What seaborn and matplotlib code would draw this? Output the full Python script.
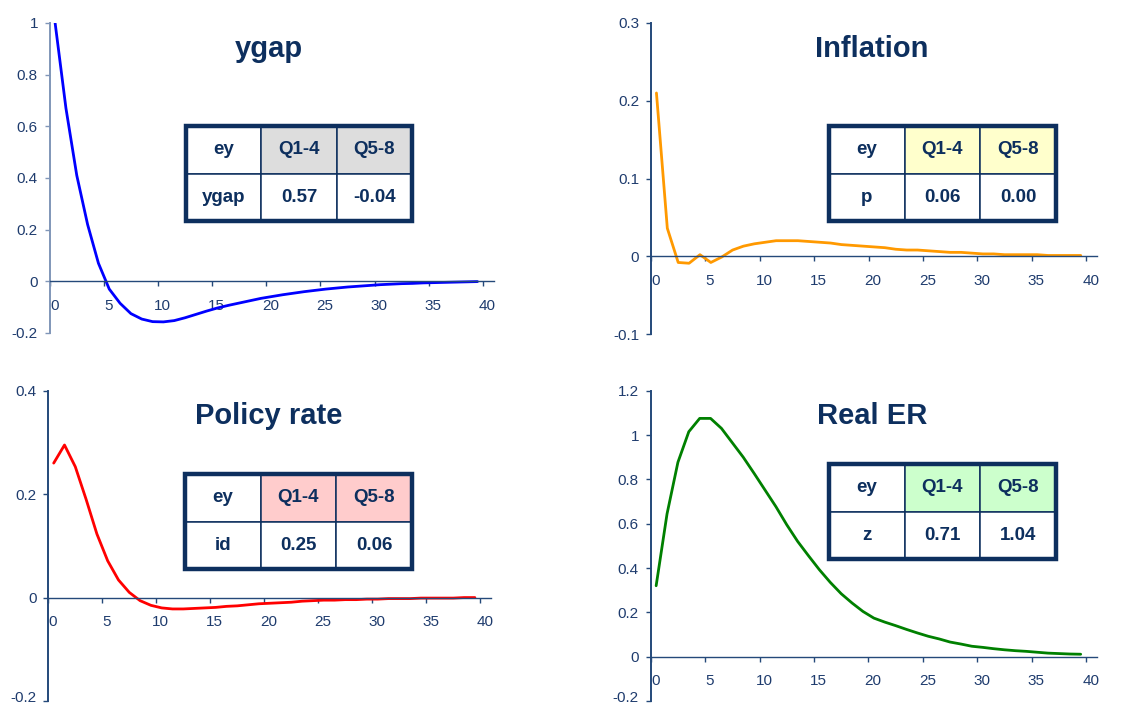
import numpy as np
import pandas as pd
import matplotlib
matplotlib.use("Agg")
import matplotlib.pyplot as plt
import matplotlib.transforms as mtransforms
from matplotlib.patches import Rectangle
import seaborn as sns

# ── data: impulse responses, 40 quarters ─────────────────────────
quarters = list(range(40))

ygap = [1.00, 0.67, 0.41, 0.22, 0.07, -0.03, -0.085, -0.125, -0.146, -0.156,
        -0.157, -0.152, -0.141, -0.128, -0.115, -0.103, -0.093, -0.084, -0.075, -0.066,
        -0.059, -0.052, -0.046, -0.040, -0.035, -0.030, -0.026, -0.022, -0.019, -0.016,
        -0.013, -0.011, -0.009, -0.008, -0.006, -0.005, -0.004, -0.003, -0.002, -0.001]

inflation = [0.21, 0.036, -0.008, -0.009, 0.002, -0.008, -0.001, 0.008, 0.013, 0.016,
             0.018, 0.020, 0.020, 0.020, 0.019, 0.018, 0.017, 0.015, 0.014, 0.013,
             0.012, 0.011, 0.009, 0.008, 0.008, 0.007, 0.006, 0.005, 0.005, 0.004,
             0.003, 0.003, 0.002, 0.002, 0.002, 0.002, 0.001, 0.001, 0.001, 0.001]

policy = [0.26, 0.295, 0.253, 0.19, 0.123, 0.071, 0.034, 0.010, -0.006, -0.015,
          -0.020, -0.022, -0.022, -0.021, -0.020, -0.019, -0.017, -0.016, -0.014, -0.012,
          -0.011, -0.010, -0.009, -0.007, -0.006, -0.005, -0.005, -0.004, -0.004, -0.003,
          -0.003, -0.002, -0.002, -0.002, -0.001, -0.001, -0.001, -0.001, 0.0, 0.0]

real_er = [0.32, 0.644, 0.877, 1.015, 1.075, 1.075, 1.03, 0.965, 0.90, 0.827,
           0.752, 0.677, 0.595, 0.52, 0.455, 0.392, 0.335, 0.284, 0.242, 0.204,
           0.174, 0.156, 0.140, 0.123, 0.107, 0.092, 0.080, 0.066, 0.057, 0.047,
           0.042, 0.036, 0.031, 0.027, 0.024, 0.020, 0.016, 0.014, 0.012, 0.011]

titles = ["ygap", "Inflation", "Policy rate", "Real ER"]
table_vars = ["ygap", "p", "id", "z"]
q1_4 = ["0.57", "0.06", "0.25", "0.71"]
q5_8 = ["-0.04", "0.00", "0.06", "1.04"]

# ── style ─────────────────────────────────────────────────────────
sns.set_theme(style="white")
plt.rcParams["font.family"] = ["Liberation Sans", "DejaVu Sans"]

NAVY = "#0d2f5e"
TICK = "#1f3c6e"
AXIS = "#24497a"

W, H = 1138, 706
fig = plt.figure(figsize=(W / 100, H / 100), dpi=100)


def px_rect(l, t, r, b):
    return [l / W, 1 - b / H, (r - l) / W, (b - t) / H]


panels = [
    dict(y=ygap, color="#0000ff", ylim=(-0.2, 1.0), yticks=[-0.2, 0, 0.2, 0.4, 0.6, 0.8, 1],
         ax=(49.7, 23, 49.7 + 41 * 10.83, 333), ycol="#8096b8",
         title_xy=(269, 57), tab=(186, 126, 412, 221), hdr="#dddddd"),
    dict(y=inflation, color="#ff9900", ylim=(-0.1, 0.3), yticks=[-0.1, 0, 0.1, 0.2, 0.3],
         ax=(651, 23, 651 + 41 * 10.88, 334), ycol=AXIS,
         title_xy=(872, 57), tab=(829, 126, 1056, 221), hdr="#ffffcc"),
    dict(y=policy, color="#ff0000", ylim=(-0.2, 0.4), yticks=[-0.2, 0, 0.2, 0.4],
         ax=(48.3, 390.7, 48.3 + 41 * 10.8, 701), ycol=AXIS,
         title_xy=(269, 424), tab=(185, 474, 412, 569), hdr="#ffcccc"),
    dict(y=real_er, color="#008000", ylim=(-0.2, 1.2), yticks=[-0.2, 0, 0.2, 0.4, 0.6, 0.8, 1, 1.2],
         ax=(650.7, 390.7, 650.7 + 41 * 10.886, 701), ycol=AXIS,
         title_xy=(872, 424), tab=(829, 464, 1056, 559), hdr="#ccffcc"),
]

def fmt(v):
    return "0" if v == 0 else (f"{v:g}")

shift = mtransforms.ScaledTranslation(0.045, 0, fig.dpi_scale_trans)
lift = mtransforms.ScaledTranslation(0, 0.05, fig.dpi_scale_trans)

for k, p in enumerate(panels):
    ax = fig.add_axes(px_rect(*p["ax"]))
    df = pd.DataFrame({"q": [q + 0.5 for q in quarters], "v": p["y"]})
    sns.lineplot(data=df, x="q", y="v", ax=ax, color=p["color"], lw=2.0)
    ax.set_xlim(0, 41)
    ax.set_ylim(*p["ylim"])
    ax.set_xlabel(""); ax.set_ylabel("")
    ax.set_facecolor("none")
    for s in ["top", "right"]:
        ax.spines[s].set_visible(False)
    ax.spines["bottom"].set_position(("data", 0))
    ax.spines["bottom"].set_color(AXIS)
    ax.spines["left"].set_color(p["ycol"])
    ax.spines["bottom"].set_linewidth(1.0)
    ax.spines["left"].set_linewidth(1.4)
    ax.set_xticks(range(0, 41, 5))
    ax.set_yticks(p["yticks"])
    ax.set_yticklabels([fmt(v) for v in p["yticks"]])
    ax.tick_params(axis="x", direction="out", length=3.5, width=1, color=AXIS,
                   labelsize=11, labelcolor=TICK, pad=9, bottom=True)
    ax.tick_params(axis="y", direction="out", length=3.5, width=1, color=p["ycol"],
                   labelsize=11, labelcolor=TICK, pad=5, left=True)
    for lab in ax.get_xticklabels():
        lab.set_transform(lab.get_transform() + shift)
    # bottom row: keep the lowest y label inside the figure edge
    if p["ax"][3] > H - 10:
        low = ax.get_yticklabels()[0]
        low.set_transform(low.get_transform() + lift)

    # title
    tx, ty = p["title_xy"]
    fig.text(tx / W, 1 - ty / H, titles[k], ha="center", va="baseline",
             fontsize=21, fontweight="bold", color=NAVY)

    # summary table
    tax = fig.add_axes(px_rect(*p["tab"]))
    tax.axis("off")
    tbl = tax.table(cellText=[["ey", "Q1-4", "Q5-8"],
                              [table_vars[k], q1_4[k], q5_8[k]]],
                    cellLoc="center", bbox=[0, 0, 1, 1])
    tbl.auto_set_font_size(False)
    for (r, c), cell in tbl.get_celld().items():
        cell.set_edgecolor(NAVY)
        cell.set_linewidth(1.1)
        cell.set_facecolor(p["hdr"] if (r == 0 and c > 0) else "white")
        cell.get_text().set_fontsize(13.5)
        cell.get_text().set_fontweight("bold")
        cell.get_text().set_color(NAVY)
    tax.add_patch(Rectangle((0, 0), 1, 1, transform=tax.transAxes, fill=False,
                            edgecolor=NAVY, lw=3.2, clip_on=False, zorder=10))

fig.savefig("out.png", dpi=100)
